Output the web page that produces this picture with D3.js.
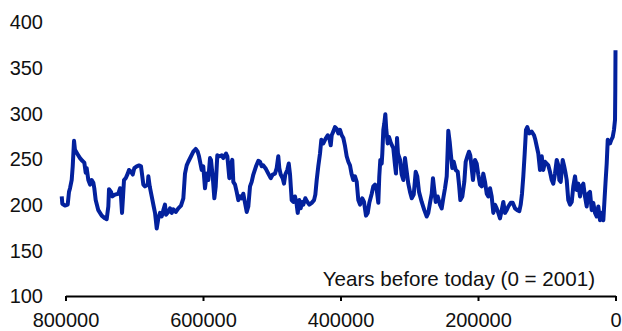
<!DOCTYPE html>
<html>
<head>
<meta charset="utf-8">
<style>
  body { margin: 0; background: #fff; }
  text { font-family: "Liberation Sans", Arial, sans-serif; fill: #111; }
</style>
</head>
<body>
<svg id="chart" width="622" height="331"></svg>
<script src="https://cdn.jsdelivr.net/npm/d3@7"></script>
<script>

// thousand years before 2001
var ageKyr = [805.5,804.6,800.7,796.8,794.9,793.4,791.0,789.5,787.6,786.2,782.2,778.9,775.5,772.6,770.6,769.2,766.8,764.3,761.9,759.5,
  758.1,756.1,752.3,747.3,742.5,740.1,737.7,736.7,733.8,731.9,728.0,723.2,720.7,719.3,717.8,716.3,714.9,712.4,709.5,707.6,
  704.7,702.2,699.9,696.4,693.1,690.2,688.3,686.8,684.4,680.4,679.5,677.5,674.6,671.7,669.8,667.3,665.0,662.5,660.1,657.7,
  655.3,653.8,650.5,648.0,645.5,643.2,639.7,635.9,632.0,628.6,626.2,623.7,621.4,617.4,614.1,610.6,607.7,605.8,601.9,599.6,
  597.1,594.6,592.3,589.8,588.4,585.9,583.5,581.5,579.2,576.3,572.8,570.5,566.5,564.6,561.7,559.7,557.4,555.9,553.4,551.0,
  548.6,546.2,543.7,541.4,538.9,536.4,534.1,531.6,529.2,526.8,522.9,519.5,517.1,514.6,512.3,508.4,505.0,501.5,498.6,495.3,
  492.8,490.5,489.0,487.0,484.1,482.2,480.3,477.4,475.3,473.4,471.0,468.6,466.2,463.7,462.2,459.9,457.9,456.0,454.1,451.2,
  448.3,445.4,441.9,438.5,436.6,434.6,432.3,429.8,427.9,425.0,421.1,418.6,416.3,414.2,412.8,410.5,408.0,405.5,403.2,400.7,
  398.2,395.9,393.4,391.0,388.6,386.2,383.7,381.4,378.9,376.4,374.1,371.6,368.3,365.8,362.9,360.4,358.1,354.6,352.3,349.8,
  347.3,345.0,343.6,342.1,340.1,339.2,337.7,336.3,334.8,333.4,331.3,329.4,326.5,323.2,320.7,319.3,317.8,316.4,313.4,311.0,
  308.6,306.2,304.3,301.4,298.9,296.4,293.5,290.6,288.3,285.8,281.9,278.1,274.6,272.3,269.8,267.3,265.5,263.6,261.5,258.6,
  255.3,252.8,250.5,248.0,245.5,244.1,243.2,241.2,239.3,237.4,235.3,232.4,229.5,227.6,225.7,222.8,219.9,217.9,215.0,213.1,
  211.2,209.2,207.3,204.4,201.9,199.6,197.1,194.6,192.3,189.8,187.3,185.0,182.5,180.1,177.7,175.3,172.8,170.5,168.0,165.5,
  163.2,160.7,158.3,155.9,152.4,149.5,146.2,142.8,139.9,137.9,136.0,134.1,132.1,130.2,128.3,125.4,121.9,118.5,116.6,114.6,
  112.3,109.8,107.3,105.0,102.5,100.1,97.7,95.3,92.8,90.5,88.0,85.5,83.2,81.7,79.7,76.8,74.9,73.0,71.0,68.7,
  66.2,63.7,61.4,58.9,56.4,54.1,51.6,49.2,46.8,44.4,41.9,39.6,37.1,34.6,32.3,29.8,27.3,25.0,22.5,20.1,
  17.7,15.7,14.3,12.8,11.3,9.9,8.0,6.1,4.1,2.2,0.7,0.3,0];

// CO2, ppmv
var co2 = [209,201,199,200,214,218,227,242,270,260,255,251,248,246,235,240,227,222,227,224,
  218,205,194,188,185,184,198,217,214,209,211,212,218,209,191,209,227,229,234,238,
  236,233,240,242,243,242,231,222,220,222,231,220,209,198,191,174,185,191,187,194,
  200,189,192,196,191,195,192,196,199,207,234,243,247,253,258,261,258,253,238,242,
  218,234,227,251,249,231,207,220,254,253,254,251,256,253,229,243,249,225,222,214,
  205,209,207,212,202,192,198,220,225,233,242,248,247,242,243,239,234,229,233,234,
  240,253,240,233,229,223,233,238,245,233,205,203,209,200,191,205,196,203,200,207,
  203,200,202,205,211,227,242,256,271,267,273,276,273,265,276,280,285,283,278,282,
  276,273,264,253,247,243,233,227,231,225,205,200,207,203,188,191,202,212,220,222,
  216,202,231,249,245,256,282,289,299,282,267,274,267,262,243,234,273,256,249,233,
  227,251,240,223,214,207,211,236,231,214,203,194,187,191,202,212,229,216,203,209,
  200,196,207,218,231,260,281,269,254,240,247,238,236,222,205,209,225,247,254,258,
  254,240,227,249,245,233,222,220,234,225,212,209,218,209,191,200,196,191,185,194,
  203,191,194,198,202,202,196,194,193,200,212,231,256,282,285,278,280,276,271,264,
  256,238,253,238,247,245,243,236,227,223,234,249,243,227,225,249,243,236,227,205,
  200,203,220,231,216,223,209,220,223,209,198,212,214,194,202,191,187,198,183,191,
  183,209,227,245,271,269,267,271,274,282,293,326,369];

var xTicks = [800000, 600000, 400000, 200000, 0];
var yTicks = [100, 150, 200, 250, 300, 350, 400];
var xTitle = "Years before today (0 = 2001)";

var data = ageKyr.map(function(a, i){ return {year: a * 1000, ppm: co2[i]}; });

var svg = d3.select("#chart");

var x = d3.scaleLinear().domain([800000, 0]).range([65.5, 615.5]);
var y = d3.scaleLinear().domain([100, 400]).range([296, 22]);

// y labels only, no axis line
svg.append("g")
   .selectAll("text")
   .data(yTicks)
   .enter().append("text")
   .attr("x", 43)
   .attr("y", function(d){ return y(d); })
   .attr("dy", "0.36em")
   .attr("text-anchor", "end")
   .style("font-size", "20px")
   .text(function(d){ return d; });

// x axis
var xAxis = svg.append("g")
   .attr("transform", "translate(0," + y(100) + ")")
   .call(d3.axisBottom(x).tickValues(xTicks).tickSize(5).tickSizeOuter(0).tickPadding(12)
         .tickFormat(d3.format("d")));

xAxis.select(".domain").attr("stroke", "#000").attr("stroke-width", 2);
xAxis.selectAll(".tick line").attr("stroke", "#000").attr("stroke-width", 2);
xAxis.selectAll(".tick text")
     .style("font-size", "20px")
     .style("font-family", "'Liberation Sans', Arial, sans-serif")
     .attr("fill", "#111");

svg.append("text")
   .attr("x", 595)
   .attr("y", 286)
   .attr("text-anchor", "end")
   .style("font-size", "20.6px")
   .text(xTitle);

var line = d3.line()
   .x(function(d){ return x(d.year); })
   .y(function(d){ return y(d.ppm); });

svg.append("path")
   .datum(data)
   .attr("d", line)
   .attr("fill", "none")
   .attr("stroke", "#03219d")
   .attr("stroke-width", 4)
   .attr("stroke-linejoin", "round");

</script>
</body>
</html>
